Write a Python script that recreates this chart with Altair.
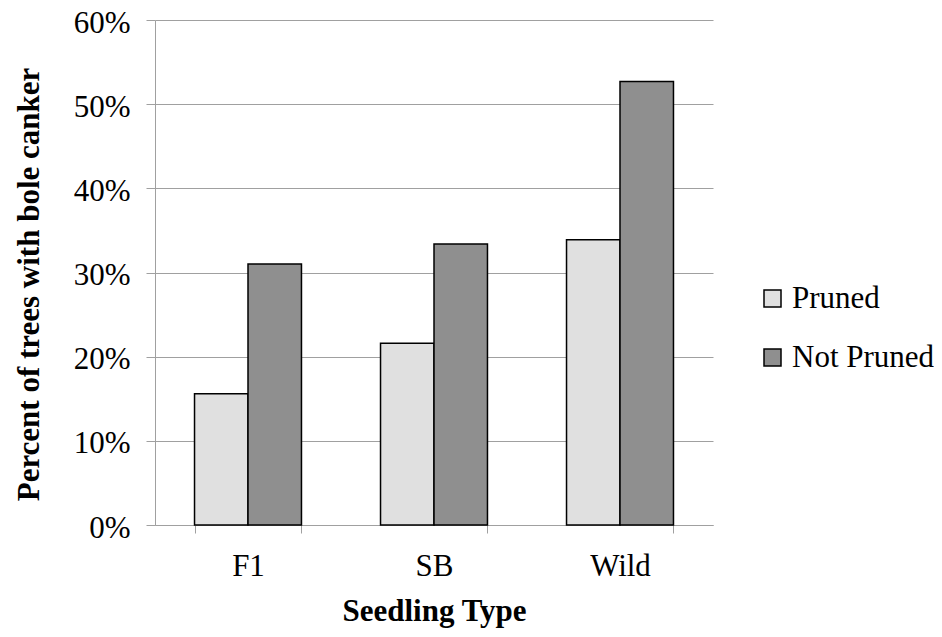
import altair as alt
import pandas as pd

categories = ["F1", "SB", "Wild"]
series = ["Pruned", "Not Pruned"]
pruned = [0.156, 0.216, 0.339]
not_pruned = [0.310, 0.334, 0.527]
y_ticks = [0, 0.1, 0.2, 0.3, 0.4, 0.5, 0.6]
colors = ["#e0e0e0", "#8f8f8f"]

rows = []
for c, p, n in zip(categories, pruned, not_pruned):
    rows.append({"type": c, "treatment": series[0], "value": p})
    rows.append({"type": c, "treatment": series[1], "value": n})
df = pd.DataFrame(rows)

FONT = "Liberation Serif"
GRID = "#a0a0a0"

chart = alt.Chart(df).mark_bar(stroke="black", strokeWidth=1.5).encode(
    x=alt.X(
        "type:N", sort=categories, title="Seedling Type",
        scale=alt.Scale(paddingInner=0.425, paddingOuter=0.2125),
        axis=alt.Axis(
            labelAngle=0, tickBand="extent", tickSize=8, tickColor=GRID,
            domainColor=GRID, labelFont=FONT, labelFontSize=31, labelColor="black",
            labelPadding=18, titleFont=FONT, titleFontSize=31, titleFontWeight="bold",
            titleColor="black", titlePadding=15,
        ),
    ),
    xOffset=alt.XOffset("treatment:N", sort=series,
                        scale=alt.Scale(domain=series, paddingInner=0, paddingOuter=0)),
    y=alt.Y(
        "value:Q", title="Percent of trees with bole canker",
        scale=alt.Scale(domain=[0, 0.6], nice=False),
        axis=alt.Axis(
            values=y_ticks, format=".0%", tickSize=9, tickColor=GRID, domainColor=GRID,
            gridColor=GRID, grid=True, labelFont=FONT, labelFontSize=31,
            labelColor="black", labelPadding=16, labelOffset=3, titleFont=FONT,
            titleFontSize=31, titleFontWeight="bold", titleColor="black",
            titleX=-126, titleY=264, titleBaseline="middle", titleAlign="center",
            titleAngle=270,
        ),
    ),
    color=alt.Color(
        "treatment:N", sort=series,
        scale=alt.Scale(domain=series, range=colors),
        legend=alt.Legend(
            title=None, orient="none", legendX=602, legendY=263, padding=0,
            symbolType="square", symbolSize=289, symbolStrokeColor="black",
            symbolStrokeWidth=1.5, symbolOpacity=1, labelFont=FONT,
            labelFontSize=31, labelColor="black", rowPadding=27, labelOffset=4,
        ),
    ),
).properties(
    width=558, height=505,
    padding={"left": 147, "top": 12, "right": 221, "bottom": 104},
    autosize="none",
).configure_view(stroke=None)

chart.save("out.html", embed_options={"renderer": "svg", "actions": False})
